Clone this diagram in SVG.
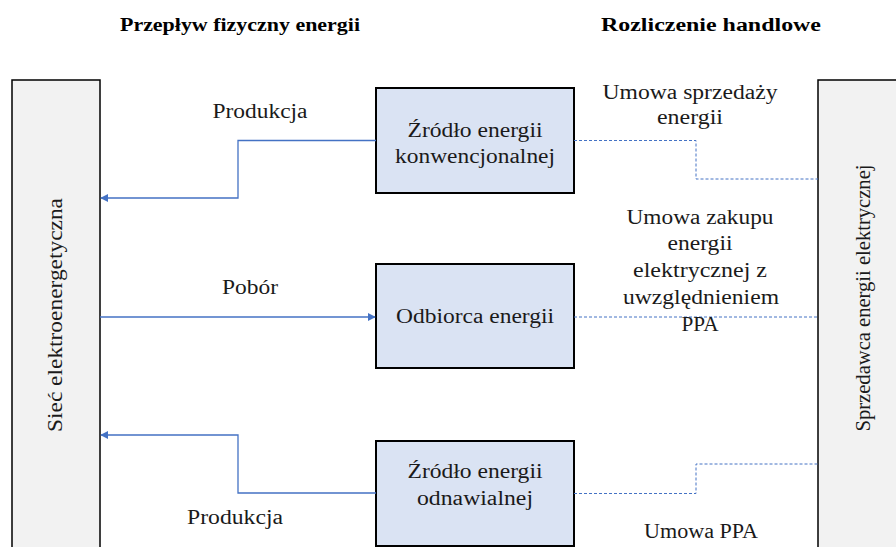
<svg xmlns="http://www.w3.org/2000/svg" width="896" height="547" viewBox="0 0 896 547">
  <style>
    .title { font-family: "Liberation Serif", serif; font-weight: bold; font-size: 18px; fill: #000; }
    .lbl { font-family: "Liberation Serif", serif; font-size: 20px; fill: #1a1a1a; text-anchor: middle; }
    .side { fill: #f2f2f2; stroke: #000; stroke-width: 1.5; }
    .node { fill: #dae3f3; stroke: #000; stroke-width: 2; }
    .flow { fill: none; stroke: #4472c4; stroke-width: 1.3; }
    .deal { fill: none; stroke: #4472c4; stroke-width: 1; stroke-dasharray: 3 2; }
  </style>
  <defs>
    <marker id="arrow" viewBox="0 0 10 10" refX="9" refY="5" markerWidth="8" markerHeight="8" markerUnits="userSpaceOnUse" orient="auto">
      <path d="M0,0 L10,5 L0,10 z" fill="#4472c4"/>
    </marker>
  </defs>
  <rect width="896" height="547" fill="#fff"/>

  <!-- column headings -->
  <text class="title" x="240" y="31" text-anchor="middle" textLength="240" lengthAdjust="spacingAndGlyphs">Przepływ fizyczny energii</text>
  <text class="title" x="711" y="31" text-anchor="middle" textLength="220" lengthAdjust="spacingAndGlyphs">Rozliczenie handlowe</text>

  <g id="siec">
    <rect class="side" x="12" y="80" width="88" height="480"/>
    <text class="lbl" transform="translate(62,315) rotate(-90)" textLength="234" lengthAdjust="spacingAndGlyphs">Sieć elektroenergetyczna</text>
  </g>

  <g id="sprzedawca">
    <rect class="side" x="818" y="80" width="90" height="480"/>
    <text class="lbl" transform="translate(870,298) rotate(-90)" textLength="267" lengthAdjust="spacingAndGlyphs">Sprzedawca energii elektrycznej</text>
  </g>

  <g id="zrodlo-konw">
    <rect class="node" x="376" y="88" width="198" height="105"/>
    <text class="lbl" x="475" y="137" textLength="135" lengthAdjust="spacingAndGlyphs">Źródło energii</text>
    <text class="lbl" x="475" y="163" textLength="160" lengthAdjust="spacingAndGlyphs">konwencjonalnej</text>
  </g>

  <g id="odbiorca">
    <rect class="node" x="376" y="264" width="198" height="104"/>
    <text class="lbl" x="475" y="323" textLength="158" lengthAdjust="spacingAndGlyphs">Odbiorca energii</text>
  </g>

  <g id="zrodlo-odn">
    <rect class="node" x="376" y="441" width="198" height="105"/>
    <text class="lbl" x="475" y="478" textLength="135" lengthAdjust="spacingAndGlyphs">Źródło energii</text>
    <text class="lbl" x="475" y="505" textLength="116" lengthAdjust="spacingAndGlyphs">odnawialnej</text>
  </g>

  <g id="connectors">
    <!-- physical flows -->
    <path class="flow" d="M376,140.5 H238 V198 H101" marker-end="url(#arrow)"/>
    <path class="flow" d="M100,317 H375" marker-end="url(#arrow)"/>
    <path class="flow" d="M376,493 H238 V435 H101" marker-end="url(#arrow)"/>
    <!-- commercial settlements -->
    <path class="deal" d="M574,140.5 H696 V179 H818"/>
    <path class="deal" d="M574,317 H818"/>
    <path class="deal" d="M574,493.5 H696 V464 H818"/>
  </g>

  <!-- connector labels -->
  <g id="labels">
    <text class="lbl" x="260" y="118" textLength="95" lengthAdjust="spacingAndGlyphs">Produkcja</text>
    <text class="lbl" x="250" y="294" textLength="56" lengthAdjust="spacingAndGlyphs">Pobór</text>
    <text class="lbl" x="235" y="524" textLength="96" lengthAdjust="spacingAndGlyphs">Produkcja</text>
    <text class="lbl" x="690" y="99" textLength="175" lengthAdjust="spacingAndGlyphs">Umowa sprzedaży</text>
    <text class="lbl" x="690" y="124" textLength="66" lengthAdjust="spacingAndGlyphs">energii</text>
    <text class="lbl" x="700" y="224" textLength="147" lengthAdjust="spacingAndGlyphs">Umowa zakupu</text>
    <text class="lbl" x="700" y="250" textLength="65" lengthAdjust="spacingAndGlyphs">energii</text>
    <text class="lbl" x="700" y="277" textLength="134" lengthAdjust="spacingAndGlyphs">elektrycznej z</text>
    <text class="lbl" x="701" y="304" textLength="156" lengthAdjust="spacingAndGlyphs">uwzględnieniem</text>
    <text class="lbl" x="700" y="331" textLength="37" lengthAdjust="spacingAndGlyphs">PPA</text>
    <text class="lbl" x="701" y="538" textLength="114" lengthAdjust="spacingAndGlyphs">Umowa PPA</text>
  </g>
</svg>
